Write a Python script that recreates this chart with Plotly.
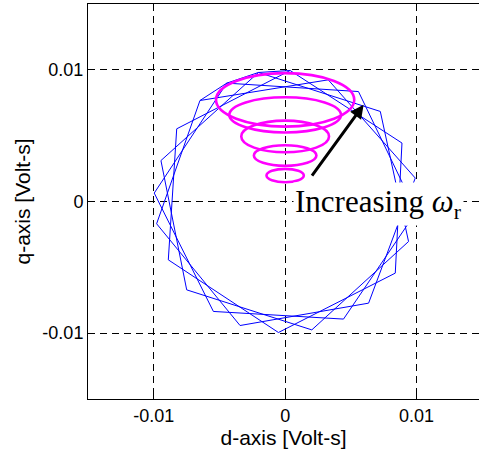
import plotly.graph_objects as go

# Blue flux trajectory vertices (Volt-s)
d_blue = [0.00038, -0.00825, -0.00889, -0.00051, 0.00838, 0.00889, 0.00038,
          -0.00203, -0.00945, -0.00749, 0.00203, 0.00939, 0.00724, -0.00203,
          -0.00444, -0.00996, -0.00546, 0.00444, 0.00998, 0.00558, -0.00444,
          -0.00648, -0.00978, -0.00343, 0.00635, 0.00990, 0.00328, -0.00648]
q_blue = [0.00995, 0.00552, -0.00443, -0.00995, -0.00544, 0.00444, 0.00995,
          0.00980, 0.00311, -0.00671, -0.00975, -0.00304, 0.00684, 0.00980,
          0.00899, 0.00064, -0.00835, -0.00893, -0.00078, 0.00835, 0.00899,
          0.00767, -0.00169, -0.00942, -0.00772, 0.00178, 0.00924, 0.00767]

# Magenta ellipses: centre and semi-axes (Volt-s)
ell_cx = [0.0, 0.0, 0.0, 0.0, 0.0]
ell_cy = [0.00772, 0.00658, 0.00494, 0.00349, 0.00197]
ell_a = [0.00526, 0.00425, 0.00334, 0.00238, 0.00142]
ell_b = [0.00203, 0.00134, 0.00120, 0.00078, 0.00051]

tick_vals = [-0.01, 0, 0.01]
tick_text = ["-0.01", "0", "0.01"]

arrow_tail = (0.00196, 0.00185)
arrow_tip = (0.00597, 0.00734)

fig = go.Figure()
fig.add_trace(go.Scatter(x=d_blue, y=q_blue, mode="lines",
                         line=dict(color="#0000FF", width=1),
                         hoverinfo="skip", showlegend=False))

for cx, cy, a, b in zip(ell_cx, ell_cy, ell_a, ell_b):
    fig.add_shape(type="circle", xref="x", yref="y",
                  x0=cx - a, x1=cx + a, y0=cy - b, y1=cy + b,
                  line=dict(color="#FF00FF", width=2.6), layer="above")

fig.add_annotation(x=arrow_tip[0], y=arrow_tip[1], ax=arrow_tail[0], ay=arrow_tail[1],
                   xref="x", yref="y", axref="x", ayref="y", text="",
                   showarrow=True, arrowhead=2, arrowsize=0.9, arrowwidth=3,
                   arrowcolor="black")

fig.add_annotation(x=0.00060, y=-0.00018, xref="x", yref="y",
                   xanchor="left", yanchor="middle", showarrow=False,
                   text="Increasing <i>ω</i><sub>r</sub>",
                   font=dict(family="Liberation Serif", size=31, color="black"),
                   bgcolor="white", borderpad=1)

axis_common = dict(
    showline=True, linecolor="black", linewidth=1,
    ticks="inside", ticklen=5, tickcolor="black",
    showgrid=True, gridcolor="black", gridwidth=1, griddash="7px,5px",
    zeroline=False, tickvals=tick_vals, ticktext=tick_text, automargin=False,
    tickfont=dict(family="Liberation Sans", size=18, color="black"),
)

fig.update_xaxes(range=[-0.015, 0.01475], mirror="ticks",
                 title=dict(text="d-axis [Volt-s]",
                            font=dict(family="Liberation Sans", size=21, color="black"),
                            standoff=2),
                 **axis_common)
fig.update_yaxes(range=[-0.015, 0.015], mirror=False,
                 title=dict(text="q-axis [Volt-s]",
                            font=dict(family="Liberation Sans", size=21, color="black"),
                            standoff=6),
                 **axis_common)

fig.update_layout(width=479, height=457,
                  margin=dict(l=88, r=0, t=4, b=58),
                  paper_bgcolor="white", plot_bgcolor="white",
                  showlegend=False)

fig.write_html("out.html",
               config={"displayModeBar": False, "staticPlot": True},
               post_script="document.body.style.margin='0px';"
                           "document.body.style.overflow='hidden';")
